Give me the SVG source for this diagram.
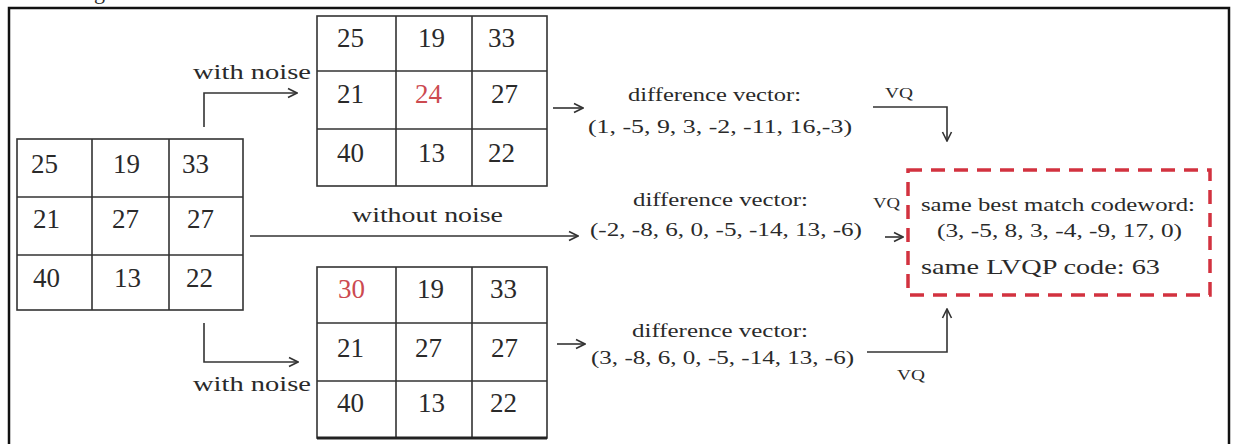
<svg xmlns="http://www.w3.org/2000/svg" width="1238" height="444" viewBox="0 0 1238 444">
<defs>
<marker id="arr" viewBox="0 0 12 12" refX="11" refY="6" markerWidth="12" markerHeight="12" markerUnits="userSpaceOnUse" orient="auto">
<path d="M2,1.5 L11,6 L2,10.5" fill="none" stroke="#333" stroke-width="1.6"/>
</marker>
<style>
.t{font-family:"Liberation Serif","Times New Roman",serif;fill:#2a2a2a}
.n{font-size:27px}
.red{fill:#cc4a50}
.g{fill:none;stroke:#333;stroke-width:1.6}
.c{fill:none;stroke:#333;stroke-width:1.6}
.ca{fill:none;stroke:#333;stroke-width:1.6;marker-end:url(#arr)}
</style>
</defs>
<rect width="1238" height="444" fill="#fff"/>
<path d="M9,446 V8 H1229 V446" fill="none" stroke="#111" stroke-width="2.5"/>
<text class="t" x="94" y="-1" font-size="22">g</text>

<g id="grid-original">
<rect class="g" x="17" y="139" width="226" height="171"/>
<path class="g" d="M92,139 V310 M169,139 V310 M17,197 H243 M17,255 H243"/>
<text class="t n" x="31" y="173">25</text>
<text class="t n" x="113" y="173">19</text>
<text class="t n" x="182" y="173">33</text>
<text class="t n" x="33" y="228">21</text>
<text class="t n" x="112" y="228">27</text>
<text class="t n" x="187" y="228">27</text>
<text class="t n" x="33" y="287">40</text>
<text class="t n" x="114" y="287">13</text>
<text class="t n" x="186" y="287">22</text>
</g>

<g id="grid-noise-top">
<rect class="g" x="317" y="16" width="230" height="170"/>
<path class="g" d="M396,16 V186 M472,16 V186 M317,71 H547 M317,129 H547"/>
<text class="t n" x="337" y="47">25</text>
<text class="t n" x="418" y="47">19</text>
<text class="t n" x="488" y="47">33</text>
<text class="t n" x="337" y="103">21</text>
<text class="t n red" x="415" y="103">24</text>
<text class="t n" x="491" y="103">27</text>
<text class="t n" x="337" y="162">40</text>
<text class="t n" x="418" y="162">13</text>
<text class="t n" x="488" y="162">22</text>
</g>

<g id="grid-noise-bottom">
<rect class="g" x="317" y="267" width="230" height="171"/>
<path class="g" d="M396,267 V438 M472,267 V438 M317,323 H547 M317,381 H547"/>
<path d="M317,438 H547" stroke="#222" stroke-width="3.2"/>
<text class="t n red" x="338" y="298">30</text>
<text class="t n" x="417" y="298">19</text>
<text class="t n" x="490" y="298">33</text>
<text class="t n" x="337" y="357">21</text>
<text class="t n" x="415" y="357">27</text>
<text class="t n" x="491" y="357">27</text>
<text class="t n" x="337" y="412">40</text>
<text class="t n" x="418" y="412">13</text>
<text class="t n" x="490" y="412">22</text>
</g>

<g id="labels">
<text class="t" x="193" y="79" font-size="22" textLength="118" lengthAdjust="spacingAndGlyphs">with noise</text>
<text class="t" x="193" y="391" font-size="22" textLength="118" lengthAdjust="spacingAndGlyphs">with noise</text>
<text class="t" x="352" y="222" font-size="22" textLength="151" lengthAdjust="spacingAndGlyphs">without noise</text>
</g>

<g id="diff-top">
<text class="t" x="628" y="101" font-size="18" textLength="173" lengthAdjust="spacingAndGlyphs">difference vector:</text>
<text class="t" x="588" y="133" font-size="18" textLength="264" lengthAdjust="spacingAndGlyphs">(1, -5, 9, 3, -2, -11, 16,-3)</text>
</g>
<g id="diff-middle">
<text class="t" x="633" y="206" font-size="18" textLength="175" lengthAdjust="spacingAndGlyphs">difference vector:</text>
<text class="t" x="590" y="236" font-size="18" textLength="272" lengthAdjust="spacingAndGlyphs">(-2, -8, 6, 0, -5, -14, 13, -6)</text>
</g>
<g id="diff-bottom">
<text class="t" x="632" y="337" font-size="18" textLength="176" lengthAdjust="spacingAndGlyphs">difference vector:</text>
<text class="t" x="591" y="364" font-size="18" textLength="263" lengthAdjust="spacingAndGlyphs">(3, -8, 6, 0, -5, -14, 13, -6)</text>
</g>

<g id="codeword-box">
<rect x="908" y="170" width="302" height="125" fill="none" stroke="#d2323f" stroke-width="3.5" stroke-dasharray="14 9"/>
<text class="t" x="921" y="211" font-size="19" textLength="274" lengthAdjust="spacingAndGlyphs">same best match codeword:</text>
<text class="t" x="937" y="237" font-size="19" textLength="245" lengthAdjust="spacingAndGlyphs">(3, -5, 8, 3, -4, -9, 17, 0)</text>
<text class="t" x="921" y="274" font-size="22" textLength="239" lengthAdjust="spacingAndGlyphs">same LVQP code: 63</text>
</g>

<g id="connectors">
<path class="ca" d="M204,127 V93 H297"/>
<path class="ca" d="M204,323 V362 H298"/>
<path class="ca" d="M250,236 H578"/>
<path class="ca" d="M553,108 H583"/>
<path class="ca" d="M557,344 H585"/>
<path class="ca" d="M885,237 H903"/>
<path class="ca" d="M873,107 H947 V141"/>
<path class="ca" d="M867,352 H947 V309"/>
<text class="t" x="885" y="98" font-size="15" textLength="28" lengthAdjust="spacingAndGlyphs">VQ</text>
<text class="t" x="873" y="208" font-size="15" textLength="27" lengthAdjust="spacingAndGlyphs">VQ</text>
<text class="t" x="897" y="380" font-size="15" textLength="28" lengthAdjust="spacingAndGlyphs">VQ</text>
</g>
</svg>
